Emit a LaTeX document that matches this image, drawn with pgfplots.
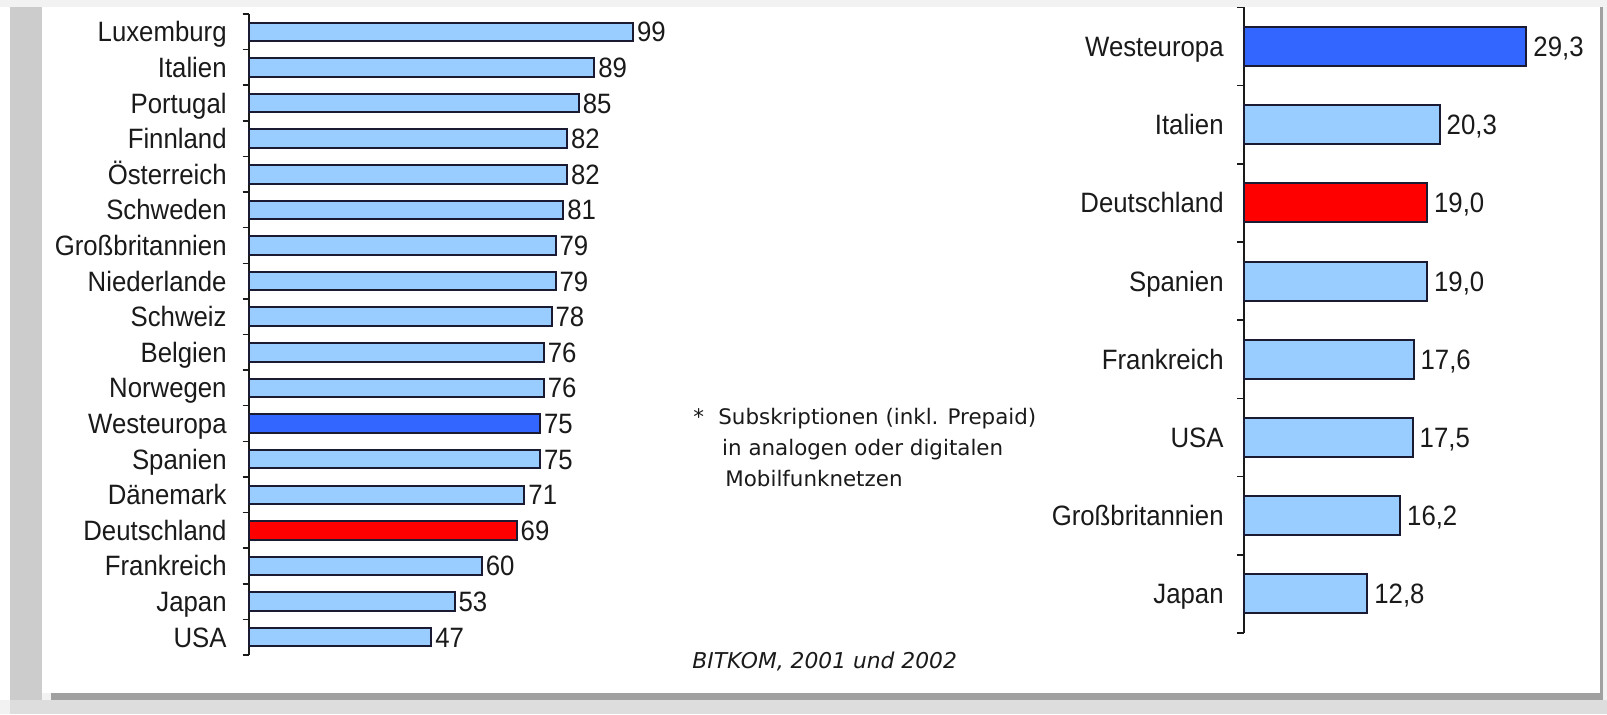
\documentclass[border=0pt]{standalone}
\usepackage{fontspec}
\setmainfont{Liberation Sans}[FakeStretch=0.92]
\newfontfamily\notefont{DejaVu Sans}
\usepackage{pgfplots}
\pgfplotsset{compat=1.18}
\definecolor{lb}{HTML}{99CCFF}
\definecolor{db}{HTML}{3366FF}
\definecolor{rd}{HTML}{FF0000}
\definecolor{edge}{HTML}{1A1A33}
\definecolor{txt}{HTML}{1A1A1A}
\pgfplotsset{mybars/.style={
  scale only axis, hide x axis, axis y line*=left, y dir=reverse,
  xmin=0, enlargelimits=false, clip=false, xbar, bar shift=0pt,
  /pgf/number format/assume math mode=true,
  y axis line style={line width=0.75pt, color=txt},
  major tick length=0pt, tick align=outside,
  minor tick style={line width=0.75pt, color=txt},
  yticklabel style={font=\fontsize{14}{16}\selectfont, text=txt, inner sep=0pt, anchor=east, text height=10pt, text depth=0pt},
  every node near coord/.append style={font=\fontsize{14}{16}\selectfont, text=txt, inner ysep=0pt, inner xsep=1.5pt, text height=10pt, text depth=0pt, anchor=west},
  point meta=x,
}}
\begin{document}
\begin{tikzpicture}
\useasboundingbox (0,0) rectangle (803.5pt,357pt);
\fill[color={rgb,255:red,242;green,242;blue,242}] (0,0) rectangle (803.5pt,357pt);
\fill[white] (0,7pt) rectangle (5pt,353.5pt);
\fill[color={rgb,255:red,221;green,221;blue,221}] (5pt,0) rectangle (803.5pt,7pt);
\fill[color={rgb,255:red,204;green,204;blue,204}] (5pt,7pt) rectangle (21pt,353.5pt);
\fill[color={rgb,255:red,160;green,160;blue,160}] (25.5pt,7pt) rectangle (801.5pt,10.5pt);
\fill[color={rgb,255:red,160;green,160;blue,160}] (800pt,7pt) rectangle (801.5pt,353.5pt);
\fill[white] (21pt,10.5pt) rectangle (800pt,353.5pt);

\begin{axis}[mybars, at={(124.5pt,29.5pt)}, anchor=south west,
  width=194pt, height=320.5pt, xmax=100,
  ymin=-0.5, ymax=17.5, ytick={0,...,17},
  yticklabels={Luxemburg,Italien,Portugal,Finnland,Österreich,Schweden,Großbritannien,Niederlande,Schweiz,Belgien,Norwegen,Westeuropa,Spanien,Dänemark,Deutschland,Frankreich,Japan,USA},
  minor ytick={-0.5,0.5,...,17.5}, minor tick length=3.2pt,
  bar width=9.25pt, yticklabel style={xshift=-11pt},
  nodes near coords={\pgfmathprintnumber[assume math mode=true]{\pgfplotspointmeta}}]
\addplot[fill=lb, draw=edge, line width=1pt, bar shift=0pt] coordinates {(99,0) (89,1) (85,2) (82,3) (82,4) (81,5) (79,6) (79,7) (78,8) (76,9) (76,10) (75,12) (71,13) (60,15) (53,16) (47,17)};
\addplot[fill=db, draw=edge, line width=1pt, bar shift=0pt] coordinates {(75,11)};
\addplot[fill=rd, draw=edge, line width=1pt, bar shift=0pt] coordinates {(69,14)};
\end{axis}

\begin{axis}[mybars, at={(622pt,40.5pt)}, anchor=south west,
  width=144.6pt, height=312.8pt, xmax=30,
  ymin=-0.5, ymax=7.5, ytick={0,...,7},
  yticklabels={Westeuropa,Italien,Deutschland,Spanien,Frankreich,USA,Großbritannien,Japan},
  minor ytick={-0.5,0.5,...,7.5}, minor tick length=3.5pt,
  bar width=19.5pt, yticklabel style={xshift=-10pt},
  every node near coord/.append style={inner xsep=3pt},
  nodes near coords={\pgfmathprintnumber[fixed,fixed zerofill,precision=1,use comma,assume math mode=true]{\pgfplotspointmeta}}]
\addplot[fill=db, draw=edge, line width=1pt, bar shift=0pt] coordinates {(29.3,0)};
\addplot[fill=lb, draw=edge, line width=1pt, bar shift=0pt] coordinates {(20.3,1) (19.0,3) (17.6,4) (17.5,5) (16.2,6) (12.8,7)};
\addplot[fill=rd, draw=edge, line width=1pt, bar shift=0pt] coordinates {(19.0,2)};
\end{axis}

\begin{scope}[every node/.style={inner sep=0pt, anchor=base west, text=txt, font=\notefont\fontsize{10.7}{12}\selectfont}]
\node at (346.5pt,145pt) {*};
\node at (359pt,145pt) {Subskriptionen (inkl. Prepaid)};
\node at (360.9pt,129.5pt) {in analogen oder digitalen};
\node at (362.5pt,113.65pt) {Mobilfunknetzen};
\node[font=\notefont\itshape\fontsize{10.9}{12}\selectfont] at (346pt,23pt) {BITKOM, 2001 und 2002};
\end{scope}
\end{tikzpicture}
\end{document}
